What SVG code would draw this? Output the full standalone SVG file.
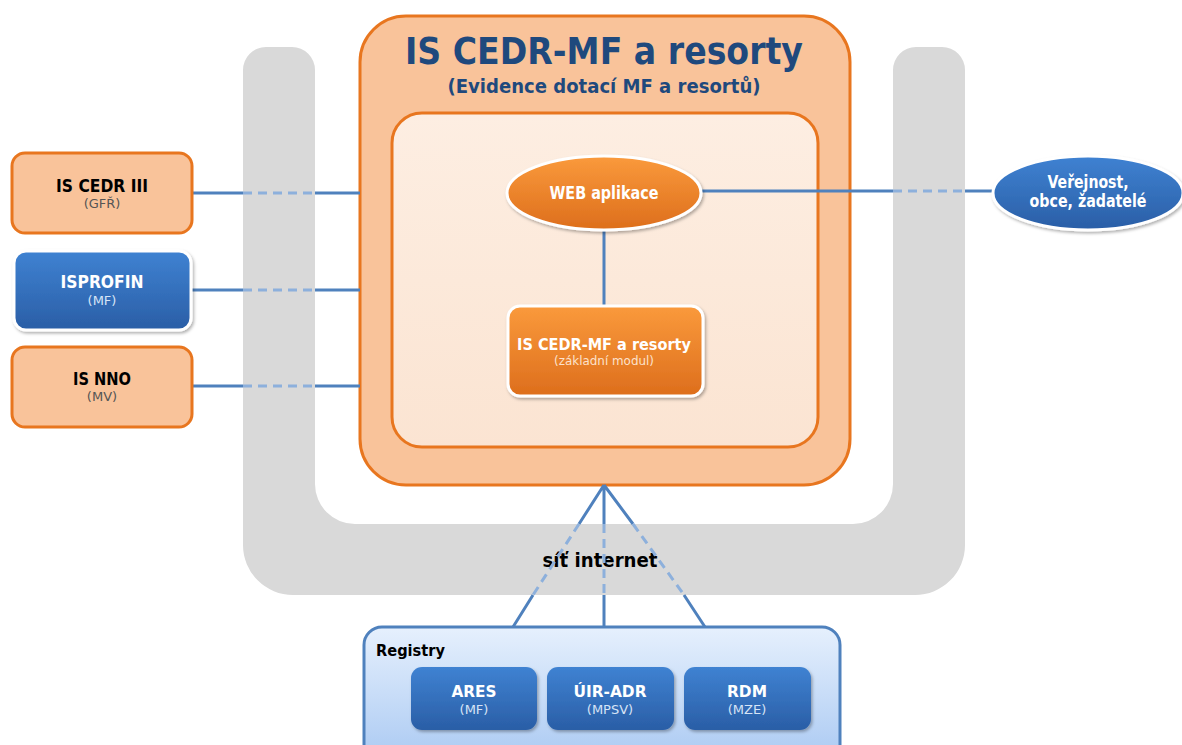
<svg xmlns="http://www.w3.org/2000/svg" width="1182" height="745" viewBox="0 0 1182 745">
<defs>
<linearGradient id="gBlue" x1="0" y1="0" x2="0" y2="1"><stop offset="0" stop-color="#3F82D2"/><stop offset="1" stop-color="#2A5EA6"/></linearGradient>
<linearGradient id="gOrange" x1="0" y1="0" x2="0" y2="1"><stop offset="0" stop-color="#FA9A3C"/><stop offset="1" stop-color="#DD6E1C"/></linearGradient>
<linearGradient id="gInner" x1="0" y1="0" x2="0" y2="1"><stop offset="0" stop-color="#FDEEE2"/><stop offset="1" stop-color="#FBE4D2"/></linearGradient>
<linearGradient id="gReg" x1="0" y1="0" x2="0" y2="1"><stop offset="0" stop-color="#E6F0FD"/><stop offset="1" stop-color="#A8C8F2"/></linearGradient>
<filter id="sh" x="-10%" y="-10%" width="125%" height="130%"><feDropShadow dx="1.5" dy="2" stdDeviation="1.5" flood-color="#000" flood-opacity="0.3"/></filter>
<style>
.t{font-family:"DejaVu Sans","Liberation Sans",sans-serif;font-weight:bold;text-anchor:middle}
.s{font-family:"DejaVu Sans","Liberation Sans",sans-serif;text-anchor:middle;font-size:13px}
.ln{stroke:#4F81BD;stroke-width:3;fill:none}
.dl{stroke:#8DB0DC;stroke-width:3;fill:none;stroke-dasharray:9 6}
.ob{fill:#F9C39A;stroke:#E8761F;stroke-width:3}
.bb{fill:url(#gBlue);stroke:#fff;stroke-width:3;filter:url(#sh)}
</style>
</defs>
<rect width="1182" height="745" fill="#fff"/>
<g id="network">
<path d="M243,70 A23,23 0 0 1 266,47 L292,47 A23,23 0 0 1 315,70 L315,484 A40,40 0 0 0 355,524 L853,524 A40,40 0 0 0 893,484 L893,70 A23,23 0 0 1 916,47 L942,47 A23,23 0 0 1 965,70 L965,545 A50,50 0 0 1 915,595 L293,595 A50,50 0 0 1 243,545 Z" fill="#D9D9D9"/>
<text class="t" x="600" y="567" font-size="20" fill="#000" textLength="115" lengthAdjust="spacingAndGlyphs">síť internet</text>
</g>
<g id="main">
<rect x="360" y="16" width="490" height="469" rx="46" class="ob"/>
<text class="t" x="604" y="64" font-size="37" fill="#1F497D" textLength="398" lengthAdjust="spacingAndGlyphs">IS CEDR-MF a resorty</text>
<text class="t" x="604" y="93" font-size="20" fill="#1F497D" textLength="313" lengthAdjust="spacingAndGlyphs">(Evidence dotací MF a resortů)</text>
<rect x="392" y="113" width="426" height="334" rx="30" fill="url(#gInner)" stroke="#E8761F" stroke-width="3"/>
</g>
<g id="connectors">
<path class="ln" d="M192,193 H243 M315,193 H360 M192,290 H243 M315,290 H360 M192,386 H243 M315,386 H360"/>
<path class="dl" d="M243,193 H315 M243,290 H315 M243,386 H315"/>
<path class="ln" d="M702,191 H893 M965,191 H994"/>
<path class="dl" d="M893,191 H965"/>
<path class="ln" d="M604,230 V306"/>
<path class="ln" d="M604,485 L579,524 M533,595 L513,627 M604,485 V524 M604,595 V627 M604,485 L633,524 M684,595 L705,627"/>
<path class="dl" d="M579,524 L533,595 M604,524 V595 M633,524 L684,595"/>
</g>
<g id="is-cedr-iii">
<rect x="12" y="153" width="180" height="80" rx="13" class="ob"/>
<text class="t" x="102" y="192" font-size="17.5" fill="#000" textLength="92" lengthAdjust="spacingAndGlyphs">IS CEDR III</text>
<text class="s" x="102" y="208" fill="#555">(GFŘ)</text>
</g>
<g id="isprofin">
<rect x="14" y="251" width="177" height="79" rx="12" class="bb"/>
<text class="t" x="102" y="288" font-size="17" fill="#fff" textLength="83" lengthAdjust="spacingAndGlyphs">ISPROFIN</text>
<text class="s" x="102" y="305" fill="#D6E4F6">(MF)</text>
</g>
<g id="is-nno">
<rect x="12" y="347" width="180" height="80" rx="13" class="ob"/>
<text class="t" x="102" y="385" font-size="17.5" fill="#000" textLength="58" lengthAdjust="spacingAndGlyphs">IS NNO</text>
<text class="s" x="102" y="401" fill="#555">(MV)</text>
</g>
<g id="web-aplikace">
<ellipse cx="604" cy="193" rx="97" ry="37" fill="url(#gOrange)" stroke="#fff" stroke-width="3" filter="url(#sh)"/>
<text class="t" x="604" y="199" font-size="17" fill="#fff" textLength="109" lengthAdjust="spacingAndGlyphs">WEB aplikace</text>
</g>
<g id="zakladni-modul">
<rect x="508" y="306" width="195" height="90" rx="12" fill="url(#gOrange)" stroke="#fff" stroke-width="3" filter="url(#sh)"/>
<text class="t" x="604" y="350" font-size="16.5" fill="#fff" textLength="174" lengthAdjust="spacingAndGlyphs">IS CEDR-MF a resorty</text>
<text class="s" x="604" y="365" fill="#FCE2CC" textLength="100" lengthAdjust="spacingAndGlyphs">(základní modul)</text>
</g>
<g id="verejnost">
<ellipse cx="1088" cy="193" rx="95" ry="37" fill="url(#gBlue)" stroke="#fff" stroke-width="3" filter="url(#sh)"/>
<text class="t" x="1088" y="188" font-size="17" fill="#fff" textLength="81" lengthAdjust="spacingAndGlyphs">Veřejnost,</text>
<text class="t" x="1088" y="207" font-size="17" fill="#fff" textLength="117" lengthAdjust="spacingAndGlyphs">obce, žadatelé</text>
</g>
<g id="registry">
<rect x="364" y="627" width="476" height="140" rx="18" fill="url(#gReg)" stroke="#4F81BD" stroke-width="3"/>
<text class="t" x="376" y="656" font-size="15" fill="#000" style="text-anchor:start" textLength="69" lengthAdjust="spacingAndGlyphs">Registry</text>
</g>
<g id="ares">
<rect x="411" y="667" width="126" height="63" rx="11" fill="url(#gBlue)" filter="url(#sh)"/>
<text class="t" x="474" y="697" font-size="16" fill="#fff" textLength="45" lengthAdjust="spacingAndGlyphs">ARES</text>
<text class="s" x="474" y="714" fill="#D6E4F6">(MF)</text>
</g>
<g id="uir-adr">
<rect x="547" y="667" width="127" height="63" rx="11" fill="url(#gBlue)" filter="url(#sh)"/>
<text class="t" x="610" y="697" font-size="16" fill="#fff" textLength="73" lengthAdjust="spacingAndGlyphs">ÚIR-ADR</text>
<text class="s" x="610" y="714" fill="#D6E4F6">(MPSV)</text>
</g>
<g id="rdm">
<rect x="684" y="667" width="127" height="63" rx="11" fill="url(#gBlue)" filter="url(#sh)"/>
<text class="t" x="747" y="697" font-size="16" fill="#fff" textLength="40" lengthAdjust="spacingAndGlyphs">RDM</text>
<text class="s" x="747" y="714" fill="#D6E4F6">(MZE)</text>
</g>
</svg>
